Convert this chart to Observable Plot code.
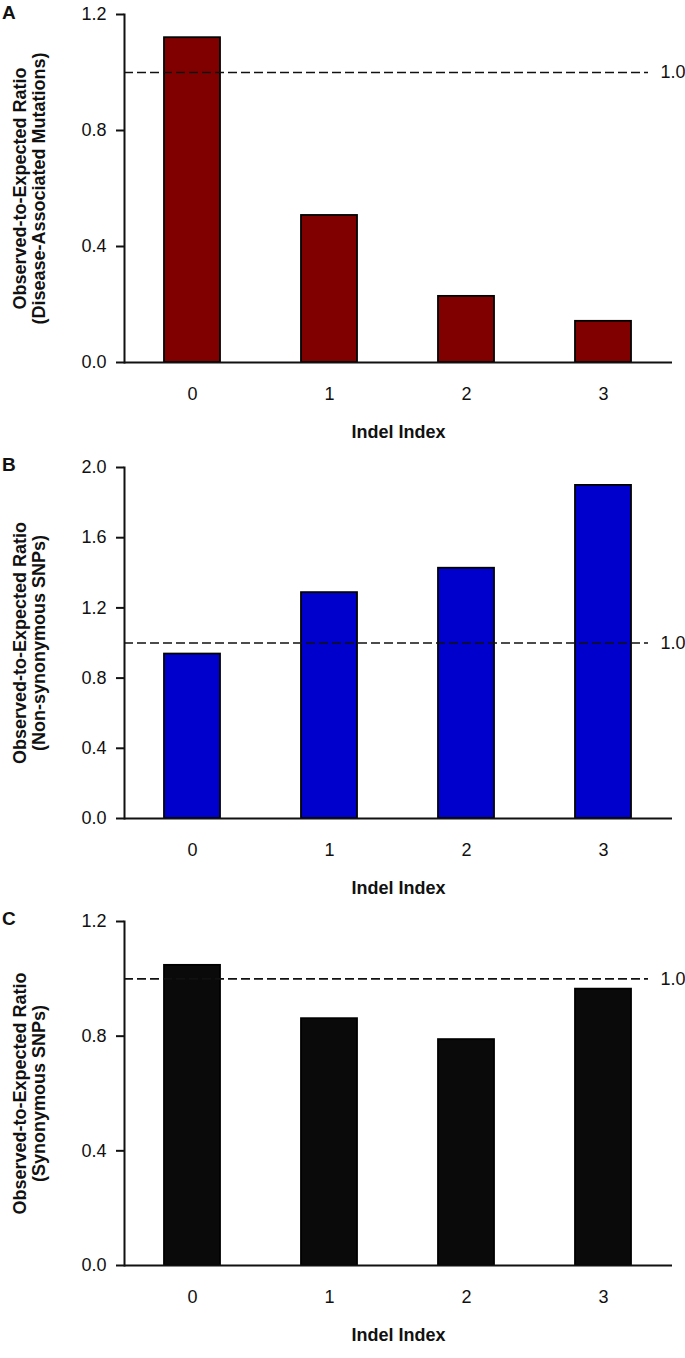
<!DOCTYPE html>
<html><head><meta charset="utf-8">
<script src="https://cdn.jsdelivr.net/npm/d3@7"></script>
<script src="https://cdn.jsdelivr.net/npm/@observablehq/plot@0.6"></script>
<style>
body{margin:0;background:#fff;font-family:"Liberation Sans",Arial,sans-serif;}
#wrap{position:relative;width:685px;height:1358px;overflow:hidden;}
.panel{position:absolute;left:0;}
.letter{position:absolute;left:2px;font-weight:bold;font-size:19px;line-height:1;color:#111;}
</style></head><body><div id="wrap"></div>
<script>
const indelIndex = ["0", "1", "2", "3"];
const diseaseRatio = [1.12, 0.507, 0.228, 0.142];
const nonsynRatio = [0.937, 1.287, 1.426, 1.898];
const synRatio = [1.047, 0.861, 0.788, 0.964];
const panelLetters = ["A", "B", "C"];
const yLabels = [
  "Observed-to-Expected Ratio\n(Disease-Associated Mutations)",
  "Observed-to-Expected Ratio\n(Non-synonymous SNPs)",
  "Observed-to-Expected Ratio\n(Synonymous SNPs)"
];
const yDomains = [[0, 1.2], [0, 2.0], [0, 1.2]];
const yTicks = [[0, 0.4, 0.8, 1.2], [0, 0.4, 0.8, 1.2, 1.6, 2.0], [0, 0.4, 0.8, 1.2]];
const xLabel = "Indel Index";
const expectedRatio = 1.0;
const expectedLabel = "1.0";
const barColors = ["#800000", "#0000cc", "#0a0a0a"];

const series = [diseaseRatio, nonsynRatio, synRatio];
const layout = [
  {top: 0, height: 450, mt: 14, mb: 88, letterTop: 3},
  {top: 450, height: 455, mt: 17, mb: 87, letterTop: 455},
  {top: 905, height: 453, mt: 16, mb: 93, letterTop: 909}
];

const wrap = document.getElementById("wrap");
series.forEach((vals, i) => {
  const data = indelIndex.map((k, j) => ({index: k, ratio: vals[j]}));
  const L = layout[i];
  const chart = Plot.plot({
    width: 685,
    height: L.height,
    marginTop: L.mt,
    marginBottom: L.mb,
    marginLeft: 124,
    marginRight: 13,
    style: {fontFamily: "'Liberation Sans', Arial, sans-serif", fontSize: "18px", color: "#111", background: "#fff", overflow: "visible"},
    x: {domain: indelIndex, paddingInner: 0.59, paddingOuter: 0.295, label: null},
    y: {domain: yDomains[i], label: null},
    marks: [
      Plot.barY(data, {x: "index", y: "ratio", fill: barColors[i], stroke: "#000", strokeWidth: 1.8}),
      Plot.ruleY([expectedRatio], {stroke: "#111", strokeWidth: 1.6, strokeDasharray: "9,4", insetRight: 24}),
      Plot.text([expectedLabel], {y: () => expectedRatio, frameAnchor: "right", textAnchor: "start", dx: -12, fontSize: 18, fill: "#111"}),
      Plot.frame({anchor: "left", stroke: "#111", strokeWidth: 2}),
      Plot.ruleY([0], {stroke: "#111", strokeWidth: 2}),
      Plot.axisY({ticks: yTicks[i], tickFormat: d3.format(".1f"), tickSize: 8, tickPadding: 10, strokeWidth: 2, fontSize: 18, label: null}),
      Plot.axisX({tickSize: 0, tickPadding: 25, fontSize: 18, label: null}),
      Plot.text([xLabel], {frameAnchor: "bottom", dy: 75, fontWeight: "bold", fontSize: 18, fill: "#111"}),
      Plot.text([yLabels[i]], {frameAnchor: "left", textAnchor: "middle", lineAnchor: "middle", rotate: -90, dx: -95, lineHeight: 1.05, fontWeight: "bold", fontSize: 18, fill: "#111"})
    ]
  });
  const div = document.createElement("div");
  div.className = "panel";
  div.style.top = L.top + "px";
  div.appendChild(chart);
  wrap.appendChild(div);
  const letter = document.createElement("div");
  letter.className = "letter";
  letter.style.top = L.letterTop + "px";
  letter.textContent = panelLetters[i];
  wrap.appendChild(letter);
});
</script></body></html>
